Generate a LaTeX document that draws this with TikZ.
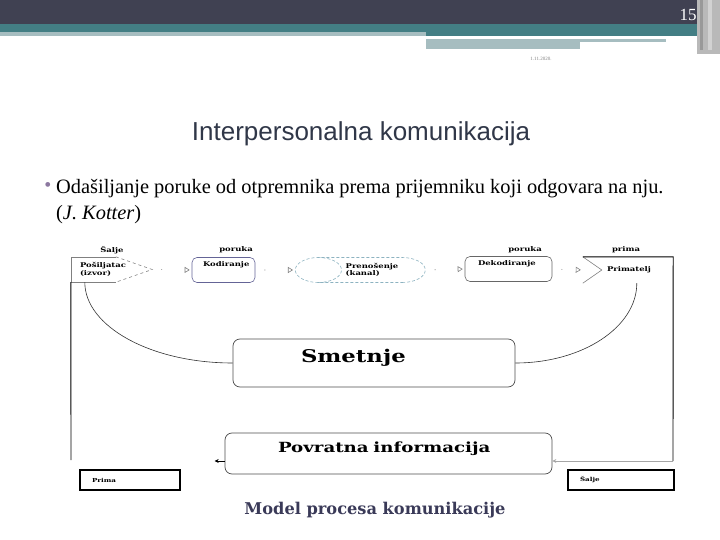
\documentclass[tikz,border=0pt]{standalone}
\usepackage{fontspec}
\setmainfont{Liberation Serif}
\newfontfamily\titlefont{Liberation Sans}
\newfontfamily\dfont[FakeStretch=1.3]{DejaVu Serif}
\newfontfamily\capfont{DejaVu Serif}
\definecolor{bardark}{RGB}{64,65,82}
\definecolor{barteal}{RGB}{67,126,132}
\definecolor{barlight}{RGB}{166,189,192}
\definecolor{titleblue}{RGB}{48,55,72}
\definecolor{bulletpurple}{RGB}{140,120,160}
\definecolor{kodline}{RGB}{100,100,150}
\definecolor{kanalline}{RGB}{140,178,192}
\definecolor{capblue}{RGB}{58,58,88}
\usetikzlibrary{arrows.meta,positioning,shapes.geometric,calc}

\begin{document}
\begin{tikzpicture}[x=1pt, y=-1pt,
    lbl/.style={font=\dfont\bfseries\fontsize{6.5}{7.5}\selectfont, inner sep=0pt},
    stage/.style={rectangle, rounded corners=5pt, draw=gray!80!black, line width=0.6pt,
                  minimum height=25pt, inner xsep=11pt, align=left, text depth=12pt,
                  font=\dfont\bfseries\fontsize{6.5}{7.5}\selectfont},
    bigbox/.style={rectangle, rounded corners=7pt, draw=gray!60!black, line width=0.7pt,
                   align=left, font=\dfont\bfseries},
    smallbox/.style={rectangle, draw=black, line width=2pt, minimum height=20pt,
                     inner xsep=12pt, align=left,
                     font=\dfont\bfseries\fontsize{5.5}{6.5}\selectfont},
    conn/.style={gray, line width=0.6pt, shorten <=9pt, shorten >=2pt,
                 dash pattern=on 1pt off 40pt,
                 -{Triangle[open, length=5pt, width=6pt]}},
    curve/.style={black!80, line width=0.6pt},
    fb/.style={black, line width=0.9pt}
  ]
    \useasboundingbox (0,0) rectangle (720,540);

    % Header band
    \fill[bardark]  (0,0)    rectangle (697,24);
    \fill[barteal]  (0,24)   rectangle (697,32);
    \fill[barlight] (0,32)   rectangle (426,36);
    \fill[barteal]  (426,32) rectangle (697,36);
    \fill[barlight] (426,39) rectangle (666,42);
    \fill[barlight] (426,42) rectangle (580,49);
    \fill[gray!55]  (697,0)  rectangle (720,54);
    \fill[gray!80]  (700,0)  rectangle (703,50);
    \fill[gray!35]  (708,0)  rectangle (712,50);
    \node[text=white, font=\fontsize{17}{17}\selectfont] (pagenum) at (688,15) {15};
    \node[text=gray, font=\fontsize{5}{5}\selectfont] (date) at (541,59) {1.11.2020.};

    % Title and bullet
    \node[text=titleblue, font=\titlefont\fontsize{26}{26}\selectfont] (title) at (361,134)
      {Interpersonalna komunikacija};
    \node[text=bulletpurple, font=\fontsize{20}{20}\selectfont] (bullet) at (48,187) {\textbullet};
    \node[anchor=base west, align=left, inner sep=0pt,
          font=\fontsize{20.4}{27}\selectfont] (body) at (56,220)
      {Odašiljanje poruke od otpremnika prema prijemniku koji odgovara na nju.\\
       (\textit{J. Kotter})};

    % Labels above the chain
    \node[lbl] (saljeT)  at (112,250) {Šalje};
    \node[lbl] (porukaA) at (236,250) {poruka};
    \node[lbl] (porukaB) at (525,250) {poruka};
    \node[lbl] (primaT)  at (626,250) {prima};

    % Chain
    \node[lbl, minimum width=81pt, minimum height=25pt, inner xsep=9pt, text width=63pt,
          align=left] (posi) at (111.5,269.5) {Pošiljatac\\(izvor)};
    \node[stage, draw=kodline, minimum width=63pt, text width=41pt] (kod) at (223.5,270) {Kodiranje};
    \node[cylinder, shape border rotate=180, aspect=3.5, draw=kanalline, dashed,
          dash pattern=on 3pt off 2pt, line width=0.6pt, minimum width=25pt, minimum height=130pt,
          align=left, inner sep=0pt, font=\dfont\bfseries\fontsize{6.5}{7}\selectfont]
          (kanal) at (372,270) {Prenošenje\\(kanal)};
    \node[stage, minimum width=87pt, text width=61pt, inner xsep=13pt] (dek) at (508.5,269) {Dekodiranje};
    \node[lbl, minimum width=90pt, minimum height=26pt, inner xsep=24pt, text width=42pt,
          align=left] (prim) at (628,270) {Primatelj};

    % Outline of sender and receiver
    \draw[gray, line width=0.6pt] ($(posi.north west)+(45,0)$) -- (posi.north west)
      -- (posi.south west) -- ++(45,0);
    \draw[gray, line width=0.6pt, dashed] ($(posi.north west)+(45,0)$) -- (posi.east)
      -- ($(posi.south west)+(45,0)$);
    \draw[gray, line width=0.6pt] (prim.north west) -- ($(prim.west)+(19,0)$) -- (prim.south west);

    \draw[conn] (posi.east) -- (kod.west);
    \draw[conn] (kod.east) -- (kanal.west);
    \draw[conn] (kanal.east) -- (dek.west);
    \draw[conn] (dek.east) -- (prim.west);

    % Noise and feedback
    \node[bigbox, minimum width=282pt, minimum height=48pt, inner xsep=68pt, text width=146pt,
          text depth=14pt, font=\dfont\bfseries\fontsize{17.5}{18}\selectfont] (smet) at (374,363) {Smetnje};
    \node[bigbox, minimum width=327pt, minimum height=41pt, inner xsep=53pt, text width=221pt,
          text depth=12pt, font=\dfont\bfseries\fontsize{14}{14}\selectfont] (pov) at (388.5,453.5)
          {Povratna informacija};

    \draw[curve] ($(posi.south west)+(14,0)$) .. controls +(0,44) and +(-82,0) .. (smet.west);
    \draw[curve] ($(prim.south west)+(54,0)$) .. controls +(0,44) and +(67,0) .. (smet.east);

    \coordinate (fbR) at (673,461);
    \coordinate (fbL) at (71,460);
    \draw[fb] (prim.north west) -- (prim.north east) -- (fbR);
    \draw[gray!70, line width=0.8pt, -{Stealth[length=4pt, width=4pt]}] (fbR) -- (fbR -| pov.east);
    \draw[fb] (posi.south west) -- (fbL);
    \draw[black, line width=0.8pt, -{Stealth[length=4pt, width=4pt]}] (fbR -| pov.west) -- ++(-10,0);

    \node[smallbox, minimum width=100pt, text width=76pt] (primaB) at (130,480) {Prima};
    \node[smallbox, minimum width=106pt, text width=82pt, inner xsep=10pt] (saljeB) at (621,480) {Šalje};

    % Caption
    \node[text=capblue, font=\capfont\bfseries\fontsize{16.2}{17}\selectfont] (caption) at (375,510)
      {Model procesa komunikacije};
  \end{tikzpicture}
\end{document}
